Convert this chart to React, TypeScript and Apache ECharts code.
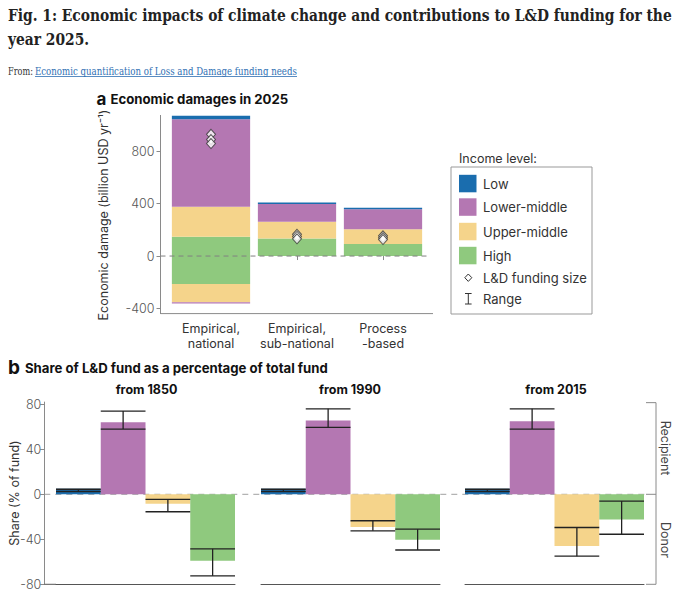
import React, { useEffect, useRef } from "react";
import * as echarts from "echarts";

// ---------- data ----------
const incomeLevels = ["Low", "Lower-middle", "Upper-middle", "High"];
const incomeColors = ["#1a6dae", "#b477b2", "#f5d48b", "#8fc97e"];

const methods = ["Empirical,\nnational", "Empirical,\nsub-national", "Process\n-based"];
const lowPos = [28, 12, 12];
const lowerMiddlePos = [668, 136, 153];
const upperMiddlePos = [229, 127, 112];
const highPos = [148, 135, 92];
const highNeg = [-214, 0, 0];
const upperMiddleNeg = [-140, 0, 0];
const lowerMiddleNeg = [-8, 0, 0];
const fundingSize = [
  [930, 890, 860],
  [166, 150, 132],
  [155, 140, 126],
];
const damageTicks = [-400, 0, 400, 800];

const periods = ["from 1850", "from 1990", "from 2015"];
const shareValues = [
  [5, 64, -8.5, -59],
  [5, 65.5, -29, -40.5],
  [5, 65, -46, -22.5],
];
const shareRanges = [
  [[2.5, 4.5], [58, 74], [-15.5, -4.5], [-72.5, -48.5]],
  [[2.5, 4.5], [59.5, 76], [-32.5, -23.5], [-49.5, -31]],
  [[2.5, 4.5], [58, 76], [-55, -29.5], [-35.5, -6]],
];
const shareTicks = [-80, -40, 0, 40, 80];

// ---------- layout ----------
const SANS = "Inter, 'Noto Sans', sans-serif";
const SERIF = "'DejaVu Serif', serif";
const A = { left: 168, width: 258, top: 115.4, height: 198.2, min: -440, max: 1075, axisX: 160.5 };
const B = { lefts: [56, 261, 465], width: 179, top: 402.05, height: 182.25, min: -80, max: 82, axisX: 44.3 };

function measure(text: string, font: string) {
  const ctx = document.createElement("canvas").getContext("2d");
  if (!ctx) return 0;
  ctx.font = font;
  return ctx.measureText(text).width;
}

function fitScale(text: string, font: string, target: number) {
  const w = measure(text, font);
  return w > 0 ? target / w : 1;
}

function txt(x: number, y: number, text: string, font: string, fill: string, extra: any = {}) {
  const { align = "left", vAlign = "middle", ...rest } = extra;
  return {
    type: "text",
    x,
    y,
    z: 100,
    ...rest,
    style: {
      text,
      font,
      fill,
      textAlign: align,
      textVerticalAlign: vAlign,
      align,
      verticalAlign: vAlign,
    },
  };
}

function line(x1: number, y1: number, x2: number, y2: number, stroke: string, extra: any = {}) {
  const { dash, width = 1, z = 100 } = extra;
  return {
    type: "line",
    z,
    shape: { x1, y1, x2, y2 },
    style: { stroke, lineWidth: width, lineDash: dash },
  };
}

export default function App() {
  const ref = useRef<HTMLDivElement>(null);

  useEffect(() => {
    if (!ref.current) return;
    const chart = echarts.init(ref.current, undefined, { renderer: "svg" });

    const aZeroY = A.top + (A.height * A.max) / (A.max - A.min);
    const aBottom = A.top + A.height;
    const bZeroY = B.top + (B.height * B.max) / (B.max - B.min);
    const bBottom = B.top + B.height;

    // titles
    const titleFont = `bold 16px ${SERIF}`;
    const title1 = "Fig. 1: Economic impacts of climate change and contributions to L&D funding for the";
    const tScale = fitScale(title1, titleFont, 664);
    const linkText = "Economic quantification of Loss and Damage funding needs";
    const linkFont = `10.5px ${SERIF}`;
    const linkScale = fitScale(linkText, linkFont, 262);
    const fromScale = fitScale("From:", linkFont, 25);
    const aTitle = "Economic damages in 2025";
    const panelFont = `bold 13px ${SANS}`;
    const aScale = fitScale(aTitle, panelFont, 178);
    const bTitle = "Share of L&D fund as a percentage of total fund";
    const bScale = fitScale(bTitle, panelFont, 303);

    const grayAxis = "#8a8a8a";
    const tickLabel = { color: "#555", fontFamily: SANS, fontSize: 12.5, fontWeight: 300 };

    const graphic: any[] = [
      txt(8, 16, title1, titleFont, "#222", { scaleX: tScale }),
      txt(8, 40, "year 2025.", titleFont, "#222", { scaleX: tScale }),
      txt(8, 71, "From:", linkFont, "#333", { scaleX: fromScale }),
      txt(35, 71, linkText, linkFont, "#2f6fb3", { scaleX: linkScale }),
      line(35, 76.5, 297, 76.5, "#2f6fb3", { width: 0.8 }),
      // panel a
      txt(96.5, 99, "a", `bold 17px ${SANS}`, "#111"),
      txt(110.5, 99.5, aTitle, panelFont, "#111", { scaleX: aScale }),
      txt(103.5, 215, "Economic damage (billion USD yr⁻¹)", `12.5px ${SANS}`, "#333", {
        align: "center",
        rotation: Math.PI / 2,
      }),
      line(A.axisX, aBottom, 433, aBottom, grayAxis),
      line(A.axisX, aZeroY, 430, aZeroY, "#808080", { dash: [5, 4] }),
      // legend
      txt(459, 158, "Income level:", `12.5px ${SANS}`, "#333"),
      {
        type: "rect",
        z: 100,
        shape: { x: 451, y: 167, width: 141, height: 147 },
        style: { fill: "none", stroke: "#999", lineWidth: 1 },
      },
      // panel b
      txt(8, 367, "b", `bold 19px ${SANS}`, "#111"),
      txt(25, 368, bTitle, panelFont, "#111", { scaleX: bScale }),
      txt(14, 493, "Share (% of fund)", `12.5px ${SANS}`, "#333", {
        align: "center",
        rotation: Math.PI / 2,
      }),
      line(B.axisX, bZeroY, 646, bZeroY, "#a0a0a0", { dash: [6, 5], z: 0 }),
      line(B.axisX, bBottom, B.lefts[0], bBottom, "#555"),
      {
        type: "polyline",
        z: 100,
        shape: { points: [[646, B.top + 0.6], [656, B.top + 0.6], [656, bBottom], [646, bBottom]] },
        style: { fill: "none", stroke: grayAxis, lineWidth: 1 },
      },
      line(646, bZeroY, 656, bZeroY, grayAxis),
      txt(665, 448, "Recipient", `12.5px ${SANS}`, "#444", { align: "center", rotation: -Math.PI / 2 }),
      txt(665, 540, "Donor", `12.5px ${SANS}`, "#444", { align: "center", rotation: -Math.PI / 2 }),
    ];

    // legend entries
    const legendY = [183.5, 207, 231.5, 255.5];
    incomeLevels.forEach((lvl, i) => {
      graphic.push({
        type: "rect",
        z: 100,
        shape: { x: 459, y: legendY[i] - 8.7, width: 17.5, height: 17.5 },
        style: { fill: incomeColors[i] },
      });
      graphic.push(txt(483, legendY[i], lvl, `13px ${SANS}`, "#333"));
    });
    graphic.push({
      type: "polygon",
      z: 100,
      shape: { points: [[468.3, 274], [471.8, 277.7], [468.3, 281.4], [464.8, 277.7]] },
      style: { fill: "#fff", stroke: "#333", lineWidth: 1 },
    });
    graphic.push(txt(483, 277.5, "L&D funding size", `13px ${SANS}`, "#333"));
    graphic.push(line(468.3, 293.5, 468.3, 304, "#333"));
    graphic.push(line(465, 293.5, 471.6, 293.5, "#333"));
    graphic.push(line(465, 304, 471.6, 304, "#333"));
    graphic.push(txt(483, 298.5, "Range", `13px ${SANS}`, "#333"));

    // panel b headers
    const headerX = [146.5, 350, 556];
    periods.forEach((p, i) => {
      graphic.push(txt(headerX[i], 389, p, `bold 12.5px ${SANS}`, "#111", { align: "center" }));
    });

    const grids: any[] = [
      { left: A.left, top: A.top, width: A.width, height: A.height },
      ...B.lefts.map((l) => ({ left: l, top: B.top, width: B.width, height: B.height })),
    ];

    const xAxes: any[] = [
      {
        gridIndex: 0,
        type: "category",
        data: methods,
        axisLine: { show: false },
        axisTick: { show: true, alignWithLabel: true, length: 4, lineStyle: { color: grayAxis } },
        axisLabel: {
          interval: 0,
          color: "#333",
          fontFamily: SANS,
          fontSize: 12.5,
          lineHeight: 15.5,
          margin: 7,
        },
      },
      ...B.lefts.map((_, i) => ({
        gridIndex: i + 1,
        type: "category",
        data: incomeLevels,
        axisLine: { show: true, onZero: false, lineStyle: { color: "#555" } },
        axisTick: { show: false },
        axisLabel: { show: false },
      })),
    ];

    const yAxes: any[] = [
      {
        gridIndex: 0,
        type: "value",
        min: A.min,
        max: A.max,
        offset: A.left - A.axisX,
        splitLine: { show: false },
        axisLine: { show: true, lineStyle: { color: grayAxis } },
        axisTick: { show: true, length: 4, customValues: damageTicks, lineStyle: { color: grayAxis } },
        axisLabel: { ...tickLabel, customValues: damageTicks, margin: 6 },
      },
      ...B.lefts.map((_, i) => ({
        gridIndex: i + 1,
        type: "value",
        min: B.min,
        max: B.max,
        offset: i === 0 ? B.lefts[0] - B.axisX : 0,
        splitLine: { show: false },
        axisLine: { show: i === 0, lineStyle: { color: grayAxis } },
        axisTick: { show: i === 0, length: 4, customValues: shareTicks, lineStyle: { color: grayAxis } },
        axisLabel: { show: i === 0, ...tickLabel, customValues: shareTicks, margin: 3 },
      })),
    ];

    const stackSeries = (name: string, data: number[], color: string) => ({
      name,
      type: "bar",
      stack: "damage",
      xAxisIndex: 0,
      yAxisIndex: 0,
      barWidth: "91%",
      data,
      itemStyle: { color },
      z: 2,
    });

    const series: any[] = [
      stackSeries("High", highPos, incomeColors[3]),
      stackSeries("High (negative)", highNeg, incomeColors[3]),
      stackSeries("Upper-middle", upperMiddlePos, incomeColors[2]),
      stackSeries("Upper-middle (negative)", upperMiddleNeg, incomeColors[2]),
      stackSeries("Lower-middle", lowerMiddlePos, incomeColors[1]),
      stackSeries("Lower-middle (negative)", lowerMiddleNeg, incomeColors[1]),
      stackSeries("Low", lowPos, incomeColors[0]),
      {
        name: "L&D funding size",
        type: "scatter",
        xAxisIndex: 0,
        yAxisIndex: 0,
        symbol: "diamond",
        symbolSize: [9, 10],
        z: 5,
        itemStyle: { color: "#fff", borderColor: "#333", borderWidth: 1 },
        data: fundingSize.flatMap((vals, i) => vals.map((v) => [i, v])),
      },
    ];

    shareValues.forEach((vals, p) => {
      series.push({
        name: periods[p],
        type: "bar",
        xAxisIndex: p + 1,
        yAxisIndex: p + 1,
        barWidth: "100%",
        z: 2,
        data: vals.map((v, i) => ({ value: v, itemStyle: { color: incomeColors[i] } })),
      });
      series.push({
        name: periods[p] + " range",
        type: "custom",
        xAxisIndex: p + 1,
        yAxisIndex: p + 1,
        z: 4,
        encode: { x: 0, y: [1, 2] },
        data: shareRanges[p].map((r, i) => [i, r[0], r[1]]),
        renderItem: (_params: any, api: any) => {
          const idx = api.value(0);
          const pLo = api.coord([idx, api.value(1)]);
          const pHi = api.coord([idx, api.value(2)]);
          const half = api.size([1, 0])[0] / 2;
          const style = { stroke: "#222", lineWidth: 1.3 };
          return {
            type: "group",
            children: [
              { type: "line", shape: { x1: pLo[0] - half, y1: pLo[1], x2: pLo[0] + half, y2: pLo[1] }, style },
              { type: "line", shape: { x1: pHi[0] - half, y1: pHi[1], x2: pHi[0] + half, y2: pHi[1] }, style },
              { type: "line", shape: { x1: pLo[0], y1: pLo[1], x2: pHi[0], y2: pHi[1] }, style },
            ],
          };
        },
      });
    });

    chart.setOption({
      animation: false,
      backgroundColor: "#fff",
      grid: grids,
      xAxis: xAxes,
      yAxis: yAxes,
      series,
      graphic: { elements: graphic },
    });

    return () => chart.dispose();
  }, []);

  return (
    <div
      ref={ref}
      style={{ position: "fixed", left: 0, top: 0, width: 680, height: 604, background: "#fff" }}
    />
  );
}
